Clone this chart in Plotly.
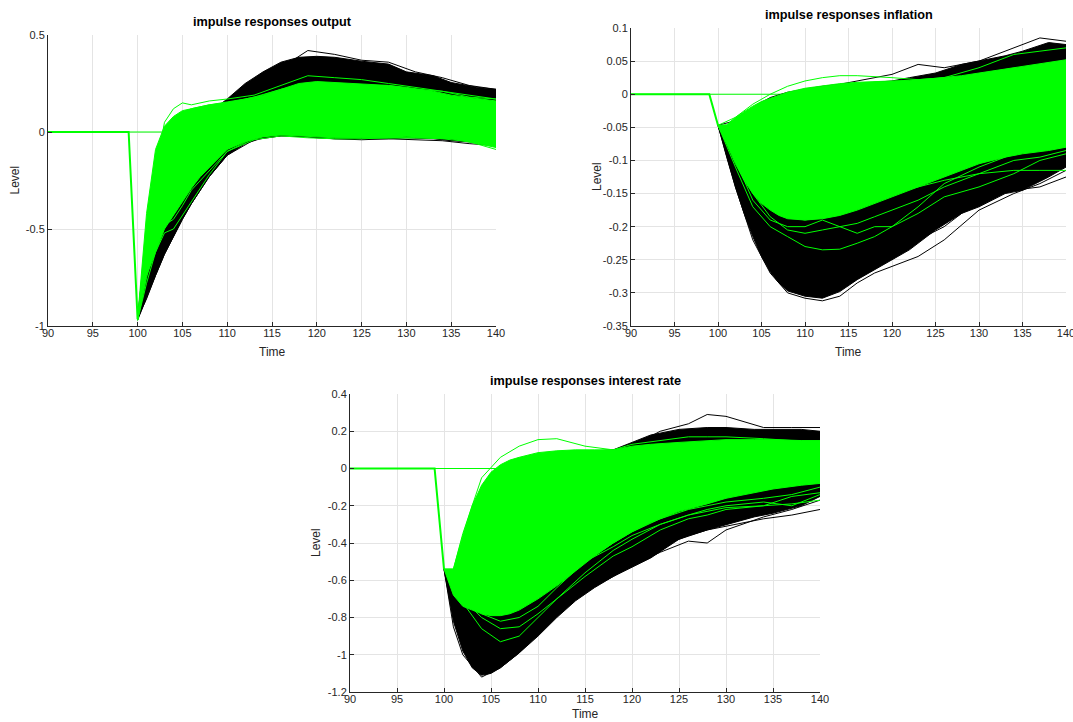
import plotly.graph_objects as go

W, H = 1073, 722

# ---------------- shared time axis values ----------------
pre_t = [90, 99]                      # flat pre-shock period
zero_t = [90, 140]

# ---------------- panel 1 : output ----------------
out_impact = -0.965
out_t = [100, 101, 102, 103, 104, 105, 106, 107, 108, 110, 112, 114, 116, 118, 120, 122, 125, 128, 130, 133, 135, 138, 140]
out_black_hi = [-0.95, -0.55, -0.25, -0.1, -0.02, 0.03, 0.06, 0.08, 0.1, 0.17, 0.25, 0.31, 0.36, 0.385, 0.39, 0.385, 0.365, 0.35, 0.31, 0.29, 0.255, 0.23, 0.22]
out_black_lo = [-0.97, -0.86, -0.74, -0.63, -0.54, -0.45, -0.37, -0.3, -0.23, -0.12, -0.06, -0.03, -0.02, -0.02, -0.03, -0.035, -0.035, -0.035, -0.03, -0.035, -0.045, -0.055, -0.06]
out_green_hi = [-0.96, -0.42, -0.09, 0.03, 0.08, 0.11, 0.12, 0.13, 0.14, 0.155, 0.17, 0.19, 0.22, 0.25, 0.26, 0.255, 0.25, 0.24, 0.23, 0.21, 0.19, 0.17, 0.16]
out_green_lo = [-0.97, -0.74, -0.62, -0.5, -0.43, -0.36, -0.29, -0.23, -0.18, -0.09, -0.05, -0.025, -0.015, -0.02, -0.025, -0.03, -0.03, -0.03, -0.025, -0.03, -0.035, -0.06, -0.08]
out_line_t = [100, 101, 102, 103, 104, 105, 106, 108, 110, 113, 116, 119, 122, 125, 128, 131, 134, 137, 140]
out_black_lines = [
    [-0.96, -0.84, -0.7, -0.58, -0.48, -0.38, -0.3, -0.15, -0.02, 0.17, 0.33, 0.42, 0.4, 0.37, 0.36, 0.31, 0.28, 0.24, 0.22],
    [-0.96, -0.86, -0.74, -0.63, -0.54, -0.45, -0.37, -0.23, -0.12, -0.04, -0.02, -0.025, -0.035, -0.04, -0.035, -0.04, -0.045, -0.06, -0.07],
]
out_green_lines = [
    [-0.97, -0.6, -0.2, 0.05, 0.12, 0.15, 0.14, 0.16, 0.17, 0.19, 0.24, 0.29, 0.28, 0.27, 0.25, 0.23, 0.21, 0.19, 0.17],
    [-0.97, -0.78, -0.62, -0.52, -0.5, -0.43, -0.36, -0.22, -0.1, -0.03, -0.01, 0.0, -0.025, -0.03, -0.03, -0.03, -0.035, -0.05, -0.09],
    [-0.97, -0.75, -0.58, -0.48, -0.45, -0.38, -0.3, -0.2, -0.1, -0.04, -0.02, -0.03, -0.035, -0.035, -0.03, -0.03, -0.03, -0.04, -0.06],
    [-0.97, -0.5, -0.15, 0.0, 0.07, 0.1, 0.12, 0.14, 0.15, 0.18, 0.22, 0.25, 0.25, 0.24, 0.24, 0.22, 0.21, 0.18, 0.17],
]

# ---------------- panel 2 : inflation ----------------
inf_impact = -0.047
inf_t = [100, 101, 102, 103, 104, 105, 106, 107, 108, 110, 112, 114, 116, 118, 120, 122, 125, 128, 130, 133, 135, 138, 140]
inf_black_hi = [-0.047, -0.05, -0.04, -0.03, -0.02, -0.012, -0.006, -0.002, 0.0, 0.005, 0.01, 0.012, 0.015, 0.018, 0.02, 0.025, 0.032, 0.045, 0.05, 0.058, 0.065, 0.078, 0.075]
inf_black_lo = [-0.047, -0.095, -0.14, -0.18, -0.215, -0.245, -0.268, -0.285, -0.297, -0.305, -0.308, -0.298, -0.28, -0.265, -0.25, -0.235, -0.205, -0.18, -0.17, -0.15, -0.145, -0.125, -0.11]
inf_green_hi = [-0.047, -0.046, -0.035, -0.026, -0.018, -0.011, -0.006, -0.001, 0.003, 0.009, 0.013, 0.016, 0.018, 0.019, 0.02, 0.021, 0.024, 0.028, 0.032, 0.038, 0.042, 0.048, 0.052]
inf_green_lo = [-0.047, -0.075, -0.105, -0.13, -0.15, -0.165, -0.175, -0.183, -0.188, -0.19, -0.188, -0.183, -0.175, -0.165, -0.155, -0.145, -0.13, -0.115, -0.105, -0.095, -0.09, -0.085, -0.08]
inf_line_t = [100, 102, 104, 106, 108, 110, 112, 114, 116, 118, 120, 123, 126, 130, 134, 137, 140]
inf_black_lines = [
    [-0.047, -0.14, -0.22, -0.27, -0.3, -0.308, -0.312, -0.305, -0.285, -0.27, -0.26, -0.245, -0.22, -0.175, -0.15, -0.135, -0.115],
    [-0.047, -0.13, -0.2, -0.255, -0.285, -0.3, -0.29, -0.28, -0.27, -0.255, -0.24, -0.22, -0.2, -0.16, -0.145, -0.14, -0.125],
    [-0.047, -0.12, -0.19, -0.24, -0.27, -0.285, -0.28, -0.275, -0.26, -0.24, -0.225, -0.2, -0.18, -0.15, -0.125, -0.11, -0.095],
    [-0.047, -0.04, -0.02, -0.005, 0.003, 0.008, 0.012, 0.015, 0.02, 0.025, 0.03, 0.045, 0.04, 0.05, 0.07, 0.085, 0.08],
]
inf_green_lines = [
    [-0.047, -0.1, -0.15, -0.185, -0.205, -0.21, -0.205, -0.2, -0.195, -0.185, -0.175, -0.16, -0.14, -0.12, -0.1, -0.095, -0.085],
    [-0.047, -0.11, -0.17, -0.2, -0.215, -0.23, -0.235, -0.234, -0.225, -0.215, -0.2, -0.18, -0.155, -0.14, -0.12, -0.1, -0.09],
    [-0.047, -0.1, -0.16, -0.19, -0.2, -0.2, -0.19, -0.2, -0.21, -0.2, -0.2, -0.17, -0.135, -0.11, -0.09, -0.08, -0.06],
    [-0.047, -0.09, -0.13, -0.16, -0.175, -0.18, -0.175, -0.17, -0.165, -0.16, -0.15, -0.14, -0.13, -0.12, -0.115, -0.115, -0.115],
    [-0.047, -0.035, -0.015, 0.0, 0.012, 0.02, 0.025, 0.028, 0.028, 0.027, 0.025, 0.022, 0.025, 0.04, 0.06, 0.065, 0.07],
    [-0.047, -0.09, -0.14, -0.17, -0.185, -0.19, -0.185, -0.175, -0.17, -0.16, -0.15, -0.13, -0.11, -0.095, -0.08, -0.07, -0.05],
]

# ---------------- panel 3 : interest rate ----------------
int_impact = -0.54
int_t = [100, 101, 102, 103, 104, 105, 106, 107, 108, 110, 112, 114, 116, 118, 120, 122, 125, 128, 130, 133, 135, 138, 140]
int_black_hi = [-0.54, -0.6, -0.45, -0.3, -0.18, -0.08, -0.02, 0.02, 0.04, 0.07, 0.08, 0.09, 0.095, 0.1, 0.14, 0.18, 0.21, 0.22, 0.22, 0.21, 0.21, 0.21, 0.2]
int_black_lo = [-0.54, -0.82, -0.98, -1.07, -1.11, -1.1, -1.07, -1.03, -0.99, -0.9, -0.8, -0.71, -0.64, -0.58, -0.53, -0.48, -0.38, -0.33, -0.3, -0.26, -0.24, -0.2, -0.15]
int_green_hi = [-0.54, -0.54, -0.36, -0.2, -0.09, -0.02, 0.02, 0.045, 0.06, 0.085, 0.095, 0.1, 0.1, 0.1, 0.12, 0.13, 0.14, 0.15, 0.155, 0.155, 0.155, 0.15, 0.15]
int_green_lo = [-0.54, -0.68, -0.74, -0.76, -0.78, -0.79, -0.79, -0.78, -0.76, -0.7, -0.63, -0.55, -0.47, -0.4, -0.34, -0.29, -0.23, -0.19, -0.16, -0.13, -0.11, -0.09, -0.08]
int_line_t = [100, 101, 102, 104, 106, 108, 110, 112, 115, 118, 120, 123, 126, 128, 130, 134, 137, 140]
int_black_lines = [
    [-0.54, -0.85, -1.0, -1.12, -1.07, -0.99, -0.88, -0.78, -0.66, -0.58, -0.52, -0.45, -0.39, -0.4, -0.33, -0.26, -0.22, -0.17],
    [-0.54, -0.8, -0.95, -1.08, -1.06, -0.97, -0.86, -0.76, -0.64, -0.55, -0.5, -0.42, -0.36, -0.33, -0.31, -0.27, -0.25, -0.22],
    [-0.54, -0.6, -0.4, -0.15, 0.0, 0.05, 0.07, 0.08, 0.09, 0.1, 0.12, 0.2, 0.24, 0.29, 0.28, 0.22, 0.22, 0.22],
]
int_green_lines = [
    [-0.54, -0.62, -0.72, -0.86, -0.93, -0.9, -0.8, -0.7, -0.58, -0.47, -0.42, -0.33, -0.27, -0.25, -0.22, -0.2, -0.19, -0.17],
    [-0.54, -0.6, -0.7, -0.8, -0.86, -0.85, -0.78, -0.7, -0.56, -0.44, -0.38, -0.3, -0.25, -0.22, -0.2, -0.18, -0.2, -0.14],
    [-0.54, -0.58, -0.68, -0.78, -0.82, -0.8, -0.74, -0.64, -0.5, -0.4, -0.34, -0.27, -0.22, -0.2, -0.18, -0.16, -0.14, -0.1],
    [-0.54, -0.54, -0.35, -0.05, 0.06, 0.12, 0.155, 0.16, 0.12, 0.1, 0.13, 0.15, 0.17, 0.17, 0.17, 0.16, 0.15, 0.14],
    [-0.54, -0.56, -0.64, -0.74, -0.76, -0.72, -0.66, -0.6, -0.5, -0.42, -0.36, -0.3, -0.25, -0.23, -0.21, -0.2, -0.15, -0.13],
]

# ---------------- axis tick labels ----------------
x_ticks = [90, 95, 100, 105, 110, 115, 120, 125, 130, 135, 140]
out_yticks = [-1, -0.5, 0, 0.5]
out_ytext = ["-1", "-0.5", "0", "0.5"]
inf_yticks = [-0.35, -0.3, -0.25, -0.2, -0.15, -0.1, -0.05, 0, 0.05, 0.1]
inf_ytext = ["-0.35", "-0.3", "-0.25", "-0.2", "-0.15", "-0.1", "-0.05", "0", "0.05", "0.1"]
int_yticks = [-1.2, -1, -0.8, -0.6, -0.4, -0.2, 0, 0.2, 0.4]
int_ytext = ["-1.2", "-1", "-0.8", "-0.6", "-0.4", "-0.2", "0", "0.2", "0.4"]

titles = ["impulse responses output", "impulse responses inflation", "impulse responses interest rate"]

BLACK = "#000000"
GREEN = "#00ff00"

fig = go.Figure()


def band(ax, ay, t, hi, lo, color):
    fig.add_trace(go.Scatter(
        x=list(t) + list(t)[::-1], y=list(hi) + list(lo)[::-1],
        xaxis=ax, yaxis=ay, mode="lines", fill="toself",
        fillcolor=color, line=dict(color=color, width=1),
        hoverinfo="skip", showlegend=False))


def line(ax, ay, t, v, color, width=1):
    fig.add_trace(go.Scatter(
        x=t, y=v, xaxis=ax, yaxis=ay, mode="lines",
        line=dict(color=color, width=width), hoverinfo="skip", showlegend=False))


panels = [
    ("x", "y", out_impact, out_t, out_black_hi, out_black_lo, out_green_hi, out_green_lo,
     out_line_t, out_black_lines, out_green_lines),
    ("x2", "y2", inf_impact, inf_t, inf_black_hi, inf_black_lo, inf_green_hi, inf_green_lo,
     inf_line_t, inf_black_lines, inf_green_lines),
    ("x3", "y3", int_impact, int_t, int_black_hi, int_black_lo, int_green_hi, int_green_lo,
     int_line_t, int_black_lines, int_green_lines),
]

for ax, ay, imp, t, bhi, blo, ghi, glo, lt, blines, glines in panels:
    line(ax, ay, zero_t, [0, 0], GREEN)
    band(ax, ay, t, bhi, blo, BLACK)
    for v in blines:
        line(ax, ay, lt, v, BLACK)
    band(ax, ay, t, ghi, glo, GREEN)
    for v in glines:
        line(ax, ay, lt, v, GREEN)
    # pre-shock flat part and impact drop
    line(ax, ay, pre_t + [100], [0, 0, imp], GREEN, width=2)


def px_x(p):
    return p / W


def px_y(p):
    return 1 - p / H


FONT = "Liberation Sans, Arial, Helvetica, sans-serif"
TXT = "#262626"

axis_common = dict(
    showline=True, linecolor=TXT, linewidth=1, mirror=False,
    ticks="inside", ticklen=4, tickcolor=TXT, tickwidth=1,
    showgrid=True, gridcolor="#e4e4e4", gridwidth=1,
    zeroline=False, tickfont=dict(family=FONT, size=11, color=TXT),
    automargin=False, ticklabeloverflow="allow",
)

# pixel boxes: (left, right, top, bottom)
boxes = [(48, 496, 35, 326), (631, 1066, 28, 326), (350, 820, 394, 692)]
yranges = [(-1, 0.5), (-0.35, 0.1), (-1.2, 0.4)]
yt = [(out_yticks, out_ytext), (inf_yticks, inf_ytext), (int_yticks, int_ytext)]
suffix = ["", "2", "3"]
time_y = [352, 352, 714]

layout = dict(
    width=W, height=H, margin=dict(l=0, r=0, t=0, b=0, pad=0, autoexpand=False),
    paper_bgcolor="white", plot_bgcolor="white", showlegend=False,
)
annotations = []
for i, (l, r, tp, bt) in enumerate(boxes):
    s = suffix[i]
    layout["xaxis" + s] = dict(
        axis_common, domain=[px_x(l), px_x(r)], range=[90, 140],
        tickvals=x_ticks, anchor="y" + s, ticklabelstandoff=-3)
    layout["yaxis" + s] = dict(
        axis_common, domain=[px_y(bt), px_y(tp)], range=list(yranges[i]),
        tickvals=yt[i][0], ticktext=yt[i][1], anchor="x" + s)
    cx = (l + r) / 2
    annotations.append(dict(text="<b>" + titles[i] + "</b>", x=px_x(cx), y=px_y(tp - 13),
                            xref="paper", yref="paper", showarrow=False,
                            font=dict(family=FONT, size=12.7, color="black"),
                            xanchor="center", yanchor="middle"))
    annotations.append(dict(text="Time", x=px_x(cx), y=px_y(time_y[i]),
                            xref="paper", yref="paper", showarrow=False,
                            font=dict(family=FONT, size=12, color=TXT),
                            xanchor="center", yanchor="middle"))
    annotations.append(dict(text="Level", x=px_x(l - 34), y=px_y((tp + bt) / 2),
                            xref="paper", yref="paper", showarrow=False, textangle=-90,
                            font=dict(family=FONT, size=12, color=TXT),
                            xanchor="center", yanchor="middle"))

layout["annotations"] = annotations
fig.update_layout(**layout)

fig.write_html(
    "out.html",
    config={"displayModeBar": False},
    post_script="document.body.style.margin='0';document.body.style.padding='0';"
                "document.documentElement.style.overflow='hidden';",
)
